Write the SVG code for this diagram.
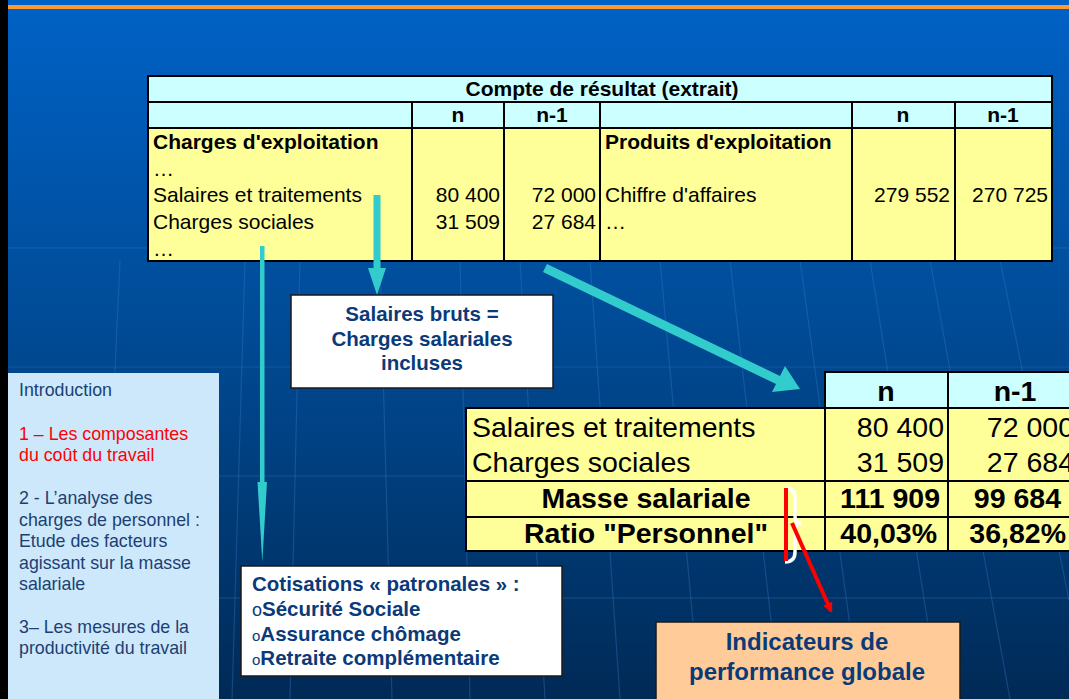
<svg xmlns="http://www.w3.org/2000/svg" width="1069" height="699" viewBox="0 0 1069 699">
<defs>
<linearGradient id="bg" x1="0" y1="0" x2="0" y2="1">
<stop offset="0" stop-color="#0062c6"/>
<stop offset="0.45" stop-color="#004c98"/>
<stop offset="1" stop-color="#002a56"/>
</linearGradient>
<marker id="redHead" markerWidth="10" markerHeight="10" refX="8" refY="5" orient="auto" markerUnits="userSpaceOnUse">
<path d="M0,0 L10,5 L0,10 Z" fill="#ff0000"/>
</marker>
</defs>
<style>
text{font-family:"Liberation Sans",Arial,sans-serif;}
.cell{stroke:#000;stroke-width:2;}
.hd{fill:#ccffff;}
.bd{fill:#ffff99;}
.t21{font-size:21px;fill:#000;}
.b21{font-size:21px;font-weight:bold;fill:#000;}
.t28{font-size:28.5px;fill:#000;}
.b28{font-size:28.5px;font-weight:bold;fill:#000;}
.box{fill:#fff;stroke:#1a1a1a;stroke-width:1.5;}
.bt{font-size:20.5px;font-weight:bold;fill:#0a3a78;}
.nav{font-size:17.8px;fill:#1c3f74;}
.grid{stroke:#3a7cc8;stroke-width:1.2;opacity:0.35;fill:none;}
.cyan{fill:#33cccc;}
</style>
<rect width="1069" height="699" fill="url(#bg)"/>
<g id="grid">
<path class="grid" d="M8 248 H1069 M8 367 H1069 M8 476 H1069 M8 598 H1069"/>
<path class="grid" d="M120 260 L100 699 M245 260 L232 699 M380 260 L392 699 M520 260 L545 699 M660 260 L700 699 M800 260 L860 699 M930 260 L1010 699 M300 260 L290 699 M460 260 L470 699 M590 260 L620 699 M730 260 L780 699 M870 260 L940 699 M1000 260 L1069 600"/>
</g>
<rect x="0" y="0" width="8" height="699" fill="#000"/>
<rect x="8" y="5" width="1061" height="4" fill="#ff9933"/>

<g id="table-compte-resultat">
<rect class="cell hd" x="148" y="76" width="904" height="26"/>
<rect class="cell hd" x="148" y="102" width="264" height="26"/>
<rect class="cell hd" x="412" y="102" width="92" height="26"/>
<rect class="cell hd" x="504" y="102" width="96" height="26"/>
<rect class="cell hd" x="600" y="102" width="252" height="26"/>
<rect class="cell hd" x="852" y="102" width="103" height="26"/>
<rect class="cell hd" x="955" y="102" width="97" height="26"/>
<rect class="cell bd" x="148" y="128" width="264" height="133"/>
<rect class="cell bd" x="412" y="128" width="92" height="133"/>
<rect class="cell bd" x="504" y="128" width="96" height="133"/>
<rect class="cell bd" x="600" y="128" width="252" height="133"/>
<rect class="cell bd" x="852" y="128" width="103" height="133"/>
<rect class="cell bd" x="955" y="128" width="97" height="133"/>
<text class="b21" x="602" y="96" text-anchor="middle">Compte de résultat (extrait)</text>
<text class="b21" x="458" y="122" text-anchor="middle">n</text>
<text class="b21" x="552" y="122" text-anchor="middle">n-1</text>
<text class="b21" x="903" y="122" text-anchor="middle">n</text>
<text class="b21" x="1003" y="122" text-anchor="middle">n-1</text>
<text class="b21" x="153" y="149">Charges d'exploitation</text>
<text class="t21" x="153" y="176">…</text>
<text class="t21" x="153" y="202">Salaires et traitements</text>
<text class="t21" x="153" y="229">Charges sociales</text>
<text class="t21" x="153" y="256">…</text>
<text class="t21" x="500" y="202" text-anchor="end">80 400</text>
<text class="t21" x="500" y="229" text-anchor="end">31 509</text>
<text class="t21" x="596" y="202" text-anchor="end">72 000</text>
<text class="t21" x="596" y="229" text-anchor="end">27 684</text>
<text class="b21" x="605" y="149">Produits d'exploitation</text>
<text class="t21" x="605" y="202">Chiffre d'affaires</text>
<text class="t21" x="605" y="229">…</text>
<text class="t21" x="950" y="202" text-anchor="end">279 552</text>
<text class="t21" x="1048" y="202" text-anchor="end">270 725</text>
</g>

<g id="table-masse-salariale">
<rect class="cell hd" x="825" y="372" width="123" height="36"/>
<rect class="cell hd" x="948" y="372" width="130" height="36"/>
<rect class="cell bd" x="466" y="408" width="359" height="73"/>
<rect class="cell bd" x="825" y="408" width="123" height="73"/>
<rect class="cell bd" x="948" y="408" width="130" height="73"/>
<rect class="cell bd" x="466" y="481" width="359" height="36"/>
<rect class="cell bd" x="825" y="481" width="123" height="36"/>
<rect class="cell bd" x="948" y="481" width="130" height="36"/>
<rect class="cell bd" x="466" y="517" width="359" height="34"/>
<rect class="cell bd" x="825" y="517" width="123" height="34"/>
<rect class="cell bd" x="948" y="517" width="130" height="34"/>
<text class="b28" x="886" y="401" text-anchor="middle">n</text>
<text class="b28" x="1015" y="401" text-anchor="middle">n-1</text>
<text class="t28" x="472" y="437">Salaires et traitements</text>
<text class="t28" x="472" y="472">Charges sociales</text>
<text class="t28" x="944" y="437" text-anchor="end">80 400</text>
<text class="t28" x="944" y="472" text-anchor="end">31 509</text>
<text class="t28" x="1074" y="437" text-anchor="end">72 000</text>
<text class="t28" x="1074" y="472" text-anchor="end">27 684</text>
<text class="b28" x="646" y="508" text-anchor="middle">Masse salariale</text>
<text class="b28" x="940" y="508" text-anchor="end">111 909</text>
<text class="b28" x="1061" y="508" text-anchor="end">99 684</text>
<text class="b28" x="646" y="543" text-anchor="middle">Ratio "Personnel"</text>
<text class="b28" x="937" y="543" text-anchor="end">40,03%</text>
<text class="b28" x="1066" y="543" text-anchor="end">36,82%</text>
</g>

<g id="connectors">
<path class="cyan" d="M373.5 195 H380.5 V268 H386 L377 295 L368 268 H373.5 Z"/>
<path class="cyan" d="M260 246 H264.5 V482 H267 L262.3 562 L257.5 482 H260 Z"/>
<path class="cyan" d="M543 272 L547 264 L780 376 L785 366 L800 389 L772 392 L776 384 Z"/>
<path d="M785 488 Q795 488 795 498 V516 Q795 523 801 523 Q795 523 795 530 V552 Q795 562 785 562" fill="none" stroke="#fff" stroke-width="3.5"/>
<line x1="786" y1="488" x2="786" y2="561" stroke="#ff0000" stroke-width="4"/>
<line x1="792" y1="523" x2="831" y2="611" stroke="#ff0000" stroke-width="4" marker-end="url(#redHead)"/>
</g>

<g id="node-salaires-bruts">
<rect class="box" x="291" y="295" width="262" height="93"/>
<text class="bt" x="422" y="321" text-anchor="middle">Salaires bruts =</text>
<text class="bt" x="422" y="346" text-anchor="middle">Charges salariales</text>
<text class="bt" x="422" y="370" text-anchor="middle">incluses</text>
</g>

<g id="node-cotisations">
<rect class="box" x="241" y="566" width="321" height="110"/>
<text class="bt" x="252" y="591">Cotisations « patronales » :</text>
<text class="bt" x="252" y="616"><tspan style="font-weight:normal;font-size:18px">o</tspan>Sécurité Sociale</text>
<text class="bt" x="252" y="641"><tspan style="font-weight:normal;font-size:15px">o</tspan>Assurance chômage</text>
<text class="bt" x="252" y="665"><tspan style="font-weight:normal;font-size:15px">o</tspan>Retraite complémentaire</text>
</g>

<g id="node-indicateurs">
<rect x="656" y="622" width="304" height="80" fill="#ffcc99" stroke="#1a1a1a" stroke-width="1.5"/>
<text x="807" y="650" text-anchor="middle" style="font-size:24px;font-weight:bold;fill:#0a3a78">Indicateurs de</text>
<text x="807" y="680" text-anchor="middle" style="font-size:24px;font-weight:bold;fill:#0a3a78">performance globale</text>
</g>

<g id="node-sommaire">
<rect x="8" y="373" width="211" height="330" fill="#cce8fa"/>
<text class="nav" x="19" y="396">Introduction</text>
<text class="nav" x="19" y="440" style="fill:#ff0000">1 – Les composantes</text>
<text class="nav" x="19" y="461" style="fill:#ff0000">du coût du travail</text>
<text class="nav" x="19" y="504">2 - L’analyse des</text>
<text class="nav" x="19" y="526">charges de personnel :</text>
<text class="nav" x="19" y="547">Etude des facteurs</text>
<text class="nav" x="19" y="569">agissant sur la masse</text>
<text class="nav" x="19" y="590">salariale</text>
<text class="nav" x="19" y="633">3– Les mesures de la</text>
<text class="nav" x="19" y="654">productivité du travail</text>
</g>
</svg>
